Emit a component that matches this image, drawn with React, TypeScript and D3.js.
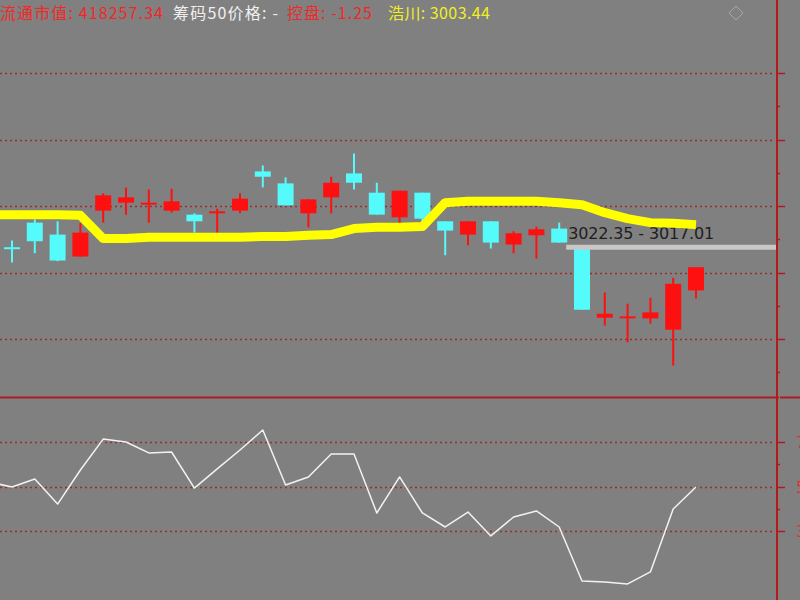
import React from 'react';
import * as d3 from 'd3';

const W = 800;
const H = 600;

// candle data (index 0..30)
const opens = [3021.8,3025.5,3023.7,3020.4,3027.3,3028.5,3028.2,3027.3,3026.7,3026.9,3027.3,3033.2,3031.4,3026.9,3029.3,3032.9,3030.0,3026.3,3030.0,3025.7,3023.7,3025.7,3022.2,3023.6,3024.6,3021.6,3011.2,3011.1,3011.1,3009.4,3015.3];
const closes = [3021.5,3022.7,3019.8,3024.0,3029.6,3029.3,3028.5,3028.7,3025.7,3027.2,3029.1,3032.4,3028.1,3029.0,3031.5,3031.5,3026.7,3030.3,3026.1,3024.3,3025.7,3022.5,3023.9,3024.5,3022.5,3012.4,3011.8,3011.4,3012.0,3016.3,3018.8];
const highs = [3022.8,3026.0,3025.7,3025.4,3029.9,3030.8,3030.5,3030.6,3026.9,3027.6,3029.9,3034.1,3032.3,3029.0,3032.4,3035.9,3031.5,3030.3,3030.0,3025.7,3025.7,3025.7,3024.2,3024.9,3025.5,3021.6,3015.0,3013.3,3014.2,3017.2,3018.8];
const lows = [3019.5,3020.9,3019.7,3020.4,3025.5,3026.7,3025.5,3027.0,3024.0,3024.0,3026.9,3030.8,3028.1,3024.8,3026.9,3030.5,3026.7,3025.4,3025.5,3020.6,3022.1,3021.6,3020.9,3020.1,3022.5,3012.4,3010.0,3007.5,3010.3,3004.0,3014.1];

// yellow indicator line (index -1..30)
const yellowLine = [3026.7,3026.7,3026.7,3026.7,3026.6,3023.1,3023.1,3023.3,3023.3,3023.3,3023.3,3023.3,3023.4,3023.4,3023.6,3023.7,3024.6,3024.8,3024.8,3024.9,3028.5,3028.7,3028.7,3028.7,3028.7,3028.5,3028.2,3027.0,3026.1,3025.5,3025.4,3025.2];

// lower panel oscillator (index -1..30)
const oscLine = [52.0,49.8,53.4,42.1,57.4,71.3,70.0,65.1,65.5,49.3,57.9,66.4,75.4,50.7,54.3,64.6,64.6,38.1,54.3,38.1,31.8,38.5,27.8,36.3,39.0,31.8,7.5,7.1,6.2,11.6,39.9,49.8];

const upperMajorTicks = [3008, 3018, 3028, 3038, 3048];
const upperMinorTicks = [3003, 3013, 3023, 3033, 3043];
const lowerMajorTicks = [30, 50, 70];
const lowerMinorTicks = [40, 60];

const levelValue = 3021.8;
const levelLabel = '3022.35 - 3017.01';

const headerItems = [
  { text: '流通市值: 418257.34', color: '#f02828' },
  { text: '筹码50价格: -', color: '#f0f0f0' },
  { text: '控盘: -1.25', color: '#f02828' },
  { text: '浩川: 3003.44', color: '#f0f020' },
];
const headerX = [0, 173, 287, 388];
const headerW = [163, 105, 85, 102];

const BG = '#808080';
const AXIS = '#b01a22';
const GRID = '#982e2e';
const RED = '#ff1010';
const CYAN = '#55fafa';

export default function App() {
  const axisX = 777;
  const x = d3.scaleLinear().domain([0, 30]).range([12, 696]);
  const y = d3.scaleLinear().domain([3008, 3048]).range([339, 73]);
  const y2 = d3.scaleLinear().domain([30, 70]).range([531, 442]);

  const yellowPath = d3.line<number>()
    .x((_, i) => x(i - 1))
    .y((d) => y(d))(yellowLine) as string;
  const oscPath = d3.line<number>()
    .x((_, i) => x(i - 1))
    .y((d) => y2(d))(oscLine) as string;

  const bw = 16;

  return (
    <svg width={W} height={H} style={{ position: 'fixed', left: 0, top: 0 }}>
      <rect x={0} y={0} width={W} height={H} fill={BG} />

      {/* grid lines */}
      {upperMajorTicks.map((t) => (
        <line key={'ug' + t} x1={0} x2={axisX - 4} y1={Math.round(y(t)) + 0.5} y2={Math.round(y(t)) + 0.5}
          stroke={GRID} strokeWidth={1.6} strokeDasharray="2,3" />
      ))}
      {lowerMajorTicks.map((t) => (
        <line key={'lg' + t} x1={0} x2={axisX - 4} y1={Math.round(y2(t)) + 0.5} y2={Math.round(y2(t)) + 0.5}
          stroke={GRID} strokeWidth={1.6} strokeDasharray="2,3" />
      ))}

      {/* candles */}
      {opens.map((o, i) => {
        const c = closes[i];
        const up = c >= o;
        const col = up ? RED : CYAN;
        const top = y(Math.max(o, c));
        const bot = y(Math.min(o, c));
        const cx = x(i);
        return (
          <g key={'c' + i}>
            <line x1={cx} x2={cx} y1={y(highs[i])} y2={y(lows[i])} stroke={col} strokeWidth={2} />
            <rect x={cx - bw / 2} y={top} width={bw} height={Math.max(2, bot - top)} fill={col} />
          </g>
        );
      })}

      {/* level text and line */}
      <text x={x(24) + 9} y={239} fontFamily="DejaVu Sans" fontSize={16} fill="#1e1e1e" textLength={146} lengthAdjust="spacing">{levelLabel}</text>
      <line x1={x(24) + 7} x2={axisX - 1} y1={y(levelValue)} y2={y(levelValue)} stroke="#c8c8c8" strokeWidth={5} />

      {/* yellow line */}
      <path d={yellowPath} fill="none" stroke="#ffff00" strokeWidth={9} strokeLinejoin="round" />

      {/* oscillator */}
      <path d={oscPath} fill="none" stroke="#f2f2f2" strokeWidth={1.5} strokeLinejoin="round" />

      {/* separator and axis */}
      <line x1={0} x2={W} y1={397.5} y2={397.5} stroke={AXIS} strokeWidth={2} />
      <line x1={779.5} x2={779.5} y1={0} y2={H} stroke="#8c7c64" strokeWidth={1} />
      <line x1={axisX} x2={axisX} y1={0} y2={H} stroke={AXIS} strokeWidth={2} />

      {upperMajorTicks.map((t) => (
        <line key={'ut' + t} x1={axisX} x2={axisX + 8} y1={Math.round(y(t)) + 0.5} y2={Math.round(y(t)) + 0.5} stroke={AXIS} strokeWidth={1.5} />
      ))}
      {upperMinorTicks.map((t) => (
        <line key={'um' + t} x1={axisX} x2={axisX + 3} y1={Math.round(y(t)) + 0.5} y2={Math.round(y(t)) + 0.5} stroke={AXIS} strokeWidth={1.5} />
      ))}
      {lowerMajorTicks.map((t) => (
        <g key={'lt' + t}>
          <line x1={axisX} x2={axisX + 8} y1={Math.round(y2(t)) + 0.5} y2={Math.round(y2(t)) + 0.5} stroke={AXIS} strokeWidth={1.5} />
          <text x={796} y={y2(t) + 6} fontFamily="DejaVu Sans" fontSize={16} fill="#e03030">{t}</text>
        </g>
      ))}
      {lowerMinorTicks.map((t) => (
        <line key={'lm' + t} x1={axisX} x2={axisX + 3} y1={Math.round(y2(t)) + 0.5} y2={Math.round(y2(t)) + 0.5} stroke={AXIS} strokeWidth={1.5} />
      ))}

      {/* header */}
      {headerItems.map((h, i) => (
        <text key={'h' + i} x={headerX[i]} y={19} fontFamily="'Noto Sans CJK SC', 'Noto Sans', sans-serif" fontSize={16}
          fill={h.color} textLength={headerW[i]} lengthAdjust="spacing">{h.text}</text>
      ))}

      {/* diamond icon */}
      <path d="M736,6 L743,13 L736,20 L729,13 Z" fill="none" stroke="#a8a8a8" strokeWidth={1} />
    </svg>
  );
}
